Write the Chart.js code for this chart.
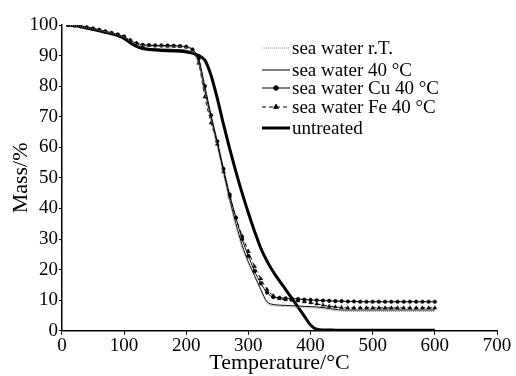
<!DOCTYPE html>
<html>
<head>
<meta charset="utf-8">
<script src="https://cdn.jsdelivr.net/npm/chart.js@4.4.0/dist/chart.umd.min.js"></script>
<style>
  html, body { margin: 0; padding: 0; background: #fff; }
  #wrap { width: 516px; height: 376px; }
</style>
</head>
<body>
<div id="wrap"><canvas id="tga"></canvas></div>
<script>
// TGA curves, mass loss vs temperature

var temps = [10, 20, 30, 40, 50, 60, 70, 80, 90, 100,
  110, 120, 130, 140, 150, 160, 170, 180, 190, 200,
  210, 220, 230, 240, 250, 260, 270, 280, 290, 300,
  310, 320, 330, 340, 350, 360, 370, 380, 390, 400,
  410, 420, 430, 440, 450, 460, 470, 480, 490, 500,
  510, 520, 530, 540, 550, 560, 570, 580, 590, 600];

var seaWaterRT = [100, 99.8, 99.5, 99.1, 98.7, 98.3, 97.8, 97.3, 96.8, 96.0,
  94.8, 93.8, 93.3, 93.1, 93.0, 93.0, 92.9, 92.9, 92.8, 92.6,
  91.3, 87.5, 77.5, 68.5, 60.0, 51.0, 42.0, 34.0, 27.0, 22.0,
  17.5, 13.0, 9.0, 8.2, 8.0, 7.9, 7.8, 7.7, 7.6, 7.5,
  7.4, 7.2, 6.9, 6.6, 6.4, 6.3, 6.3, 6.3, 6.3, 6.3,
  6.3, 6.3, 6.3, 6.3, 6.3, 6.3, 6.3, 6.3, 6.3, 6.3];

var seaWater40 = [100, 99.8, 99.5, 99.1, 98.6, 98.2, 97.7, 97.2, 96.6, 95.8,
  94.4, 93.2, 92.6, 92.3, 92.2, 92.1, 92.1, 92.0, 91.9, 91.7,
  90.8, 87.8, 78.5, 69.5, 61.0, 52.0, 43.0, 35.0, 28.0, 22.5,
  18.0, 13.5, 9.5, 8.6, 8.4, 8.3, 8.2, 8.1, 8.0, 7.9,
  7.8, 7.6, 7.3, 7.0, 6.8, 6.8, 6.8, 6.8, 6.8, 6.8,
  6.8, 6.8, 6.8, 6.8, 6.8, 6.8, 6.8, 6.8, 6.8, 6.8];

var seaWaterCu = [100, 99.8, 99.6, 99.2, 98.8, 98.4, 97.9, 97.4, 96.9, 96.2,
  95.0, 94.0, 93.5, 93.4, 93.3, 93.3, 93.3, 93.2, 93.1, 92.9,
  92.0, 89.0, 80.0, 70.5, 62.0, 53.0, 44.5, 37.0, 30.0, 24.5,
  19.5, 15.5, 12.5, 11.0, 10.8, 10.6, 10.5, 10.4, 10.2, 10.1,
  10.0, 9.9, 9.8, 9.7, 9.7, 9.6, 9.6, 9.5, 9.5, 9.5,
  9.5, 9.5, 9.5, 9.5, 9.5, 9.5, 9.5, 9.5, 9.5, 9.5];

var seaWaterFe = [100, 99.8, 99.6, 99.2, 98.8, 98.3, 97.8, 97.3, 96.8, 96.1,
  94.9, 93.9, 93.4, 93.3, 93.2, 93.2, 93.1, 93.1, 93.0, 92.8,
  91.8, 87.5, 76.5, 68.0, 61.0, 52.0, 44.0, 37.0, 31.0, 26.0,
  21.0, 17.0, 13.5, 11.5, 10.5, 10.2, 10.0, 9.8, 9.5, 9.2,
  8.8, 8.4, 8.0, 7.8, 7.6, 7.5, 7.5, 7.5, 7.5, 7.5,
  7.5, 7.5, 7.5, 7.5, 7.5, 7.5, 7.5, 7.5, 7.5, 7.5];

var untreated = [100, 99.8, 99.4, 99.0, 98.6, 98.1, 97.6, 97.1, 96.5, 95.6,
  94.2, 93.0, 92.3, 92.0, 91.8, 91.7, 91.6, 91.5, 91.4, 91.2,
  90.8, 90.0, 88.5, 83.5, 76.0, 67.5, 59.5, 52.0, 45.0, 38.5,
  32.5, 27.0, 22.8, 19.3, 16.3, 13.5, 10.6, 7.7, 4.8, 1.9,
  0.5, 0.3, 0.3, 0.2, 0.2, 0.2, 0.2, 0.2, 0.2, 0.2,
  0.2, 0.2, 0.2, 0.2, 0.2, 0.2, 0.2, 0.2, 0.2, 0.2];

var seriesLabels = ['sea water r.T.', 'sea water 40 \u00b0C', 'sea water Cu 40 \u00b0C',
  'sea water Fe 40 \u00b0C', 'untreated'];

var xTicks = [0, 100, 200, 300, 400, 500, 600, 700];
var yTicks = [0, 10, 20, 30, 40, 50, 60, 70, 80, 90, 100];

var serif = "'Liberation Serif', 'DejaVu Serif', serif";

function pts(ys) {
  return temps.map(function (t, i) { return { x: t, y: ys[i] }; });
}

// legend drawn by hand so the samples carry markers and dashes
var legendRows = [48, 70, 88, 107, 128];
var hollowLegend = {
  id: 'hollowLegend',
  afterDraw: function (chart) {
    var c = chart.ctx;
    var x0 = 262, x1 = 290;
    chart.data.datasets.forEach(function (ds, i) {
      var y = legendRows[i];
      c.save();
      c.strokeStyle = ds.borderColor;
      c.lineWidth = ds.borderWidth;
      c.setLineDash(ds.borderDash || []);
      c.beginPath();
      c.moveTo(x0, y);
      c.lineTo(x1, y);
      c.stroke();
      c.setLineDash([]);
      if (ds.pointRadius > 0) {
        Chart.helpers.drawPoint(c, {
          pointStyle: ds.pointStyle,
          radius: ds.pointRadius + 0.5,
          borderWidth: 1
        }, (x0 + x1) / 2, y);
        c.fillStyle = '#000';
        c.fill();
      }
      c.fillStyle = '#000';
      c.font = '19px ' + serif;
      c.textBaseline = 'middle';
      c.fillText(ds.label, x1 + 2, y + 1);
      c.restore();
    });
  }
};

new Chart(document.getElementById('tga'), {
  type: 'line',
  data: {
    datasets: [{
      label: seriesLabels[0],
      data: pts(seaWaterRT),
      borderColor: '#8a8a8a',
      borderWidth: 1,
      borderDash: [1, 1],
      pointRadius: 0
    }, {
      label: seriesLabels[1],
      data: pts(seaWater40),
      borderColor: '#000',
      borderWidth: 1,
      pointRadius: 0
    }, {
      label: seriesLabels[2],
      data: pts(seaWaterCu),
      borderColor: '#000',
      borderWidth: 1,
      pointStyle: 'circle',
      pointRadius: 1.8,
      pointBackgroundColor: '#000',
      pointBorderColor: '#000',
      pointBorderWidth: 0.5
    }, {
      label: seriesLabels[3],
      data: pts(seaWaterFe),
      borderColor: '#000',
      borderWidth: 1,
      borderDash: [4, 3],
      pointStyle: 'triangle',
      pointRadius: 2.2,
      pointBackgroundColor: '#000',
      pointBorderColor: '#000',
      pointBorderWidth: 0.5
    }, {
      label: seriesLabels[4],
      data: pts(untreated),
      borderColor: '#000',
      borderWidth: 3,
      pointRadius: 0
    }]
  },
  options: {
    responsive: true,
    maintainAspectRatio: false,
    animation: false,
    layout: { padding: { left: 0, right: 19, top: 25, bottom: 0 } },
    elements: { line: { cubicInterpolationMode: 'monotone' } },
    scales: {
      x: {
        type: 'linear',
        min: 0,
        max: 700,
        afterBuildTicks: function (ax) {
          ax.ticks = xTicks.map(function (v) { return { value: v }; });
        },
        title: {
          display: true,
          text: 'Temperature/\u00b0C',
          color: '#000',
          font: { family: serif, size: 22 },
          padding: { top: -8, bottom: 0 }
        },
        ticks: { color: '#000', font: { family: serif, size: 19 }, padding: 0, maxRotation: 0 },
        grid: { display: true, drawOnChartArea: false, drawTicks: true, tickLength: 4, color: '#000' },
        border: { display: true, color: '#000', width: 1.5 }
      },
      y: {
        min: 0,
        max: 100,
        afterBuildTicks: function (ax) {
          ax.ticks = yTicks.map(function (v) { return { value: v }; });
        },
        title: {
          display: true,
          text: 'Mass/%',
          color: '#000',
          font: { family: serif, size: 22 },
          padding: { top: 8, bottom: -6 }
        },
        ticks: { color: '#000', font: { family: serif, size: 19 }, padding: 1 },
        grid: { display: true, drawOnChartArea: false, drawTicks: true, tickLength: 3, color: '#000' },
        border: { display: true, color: '#000', width: 1.5 }
      }
    },
    plugins: {
      legend: { display: false },
      tooltip: { enabled: false }
    }
  },
  plugins: [hollowLegend]
});
</script>
</body>
</html>
